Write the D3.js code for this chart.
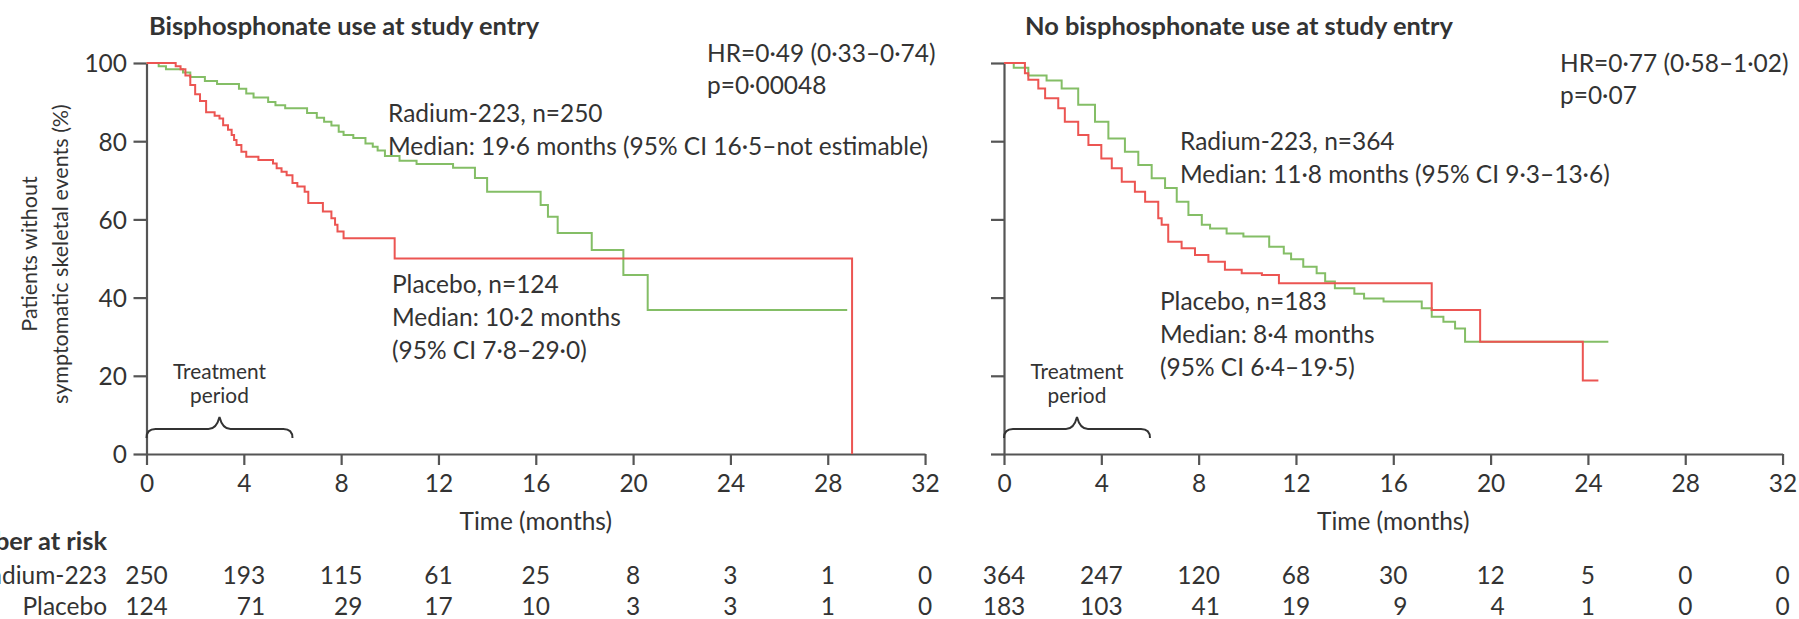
<!DOCTYPE html>
<html>
<head>
<meta charset="utf-8">
<script src="https://cdn.jsdelivr.net/npm/d3@7"></script>
<style>
  html, body { margin: 0; padding: 0; background: #fff; }
  svg { display: block; }
</style>
</head>
<body>
<div id="chart"></div>
<script>
// ---- data ----
var monthTicks = [0, 4, 8, 12, 16, 20, 24, 28, 32];
var pctTicks = [0, 20, 40, 60, 80, 100];

// Bisphosphonate use at study entry
var bisRadiumT = [0, 0.5, 0.8, 1.5, 1.8, 2.4, 2.9, 3.8, 4.1, 4.4, 5.0, 5.3, 5.7, 6.6, 7.0, 7.3, 7.6, 7.9, 8.1, 8.5, 9.0, 9.3, 9.5, 9.8, 10.4, 11.1, 12.6, 13.5, 14.0, 16.2, 16.5, 16.9, 18.3, 19.6, 20.6, 28.8];
var bisRadiumS = [100, 99.2, 98.4, 97.6, 96.4, 95.4, 94.6, 93.4, 92.2, 91.2, 90, 89.2, 88.4, 87.2, 86, 85, 84, 82.4, 81.6, 80.8, 79.4, 78.6, 77.6, 76.2, 75, 74.2, 73.2, 70.6, 67.1, 63.7, 60.7, 56.5, 52.2, 45.8, 36.8, 36.8];
var bisPlaceboT = [0, 1.2, 1.4, 1.6, 1.8, 2.0, 2.2, 2.45, 2.8, 3.0, 3.15, 3.35, 3.5, 3.6, 3.7, 3.9, 4.1, 4.6, 5.2, 5.35, 5.55, 5.76, 6.0, 6.2, 6.5, 6.65, 7.25, 7.6, 7.75, 7.85, 8.1, 10.2, 29.0];
var bisPlaceboS = [100, 99.2, 98.4, 96.8, 94.4, 92, 90.3, 87.4, 86.5, 85.8, 84.1, 82.9, 81.6, 80.3, 79, 77.3, 76, 75.2, 74.3, 73.1, 72.2, 71.3, 69.3, 68.4, 67.1, 64.2, 62, 60.3, 58.6, 56.9, 55.2, 50, 0];

// No bisphosphonate use at study entry
var noRadiumT = [0, 0.4, 1.0, 1.75, 2.37, 3.05, 3.74, 4.29, 4.97, 5.52, 6.07, 6.62, 7.1, 7.58, 8.13, 8.47, 9.15, 9.84, 10.9, 11.5, 11.8, 12.3, 12.85, 13.2, 13.6, 14.4, 14.8, 15.6, 17.17, 17.58, 18.06, 18.54, 18.95, 24.84];
var noRadiumS = [100, 98.8, 96.8, 95.5, 93.5, 89.3, 85, 80.7, 77.3, 73.9, 70.5, 68, 64.5, 61.1, 58.6, 57.7, 56.4, 55.6, 53, 51.3, 49.8, 47.9, 46.2, 44.1, 42.4, 41, 39.8, 39, 37.3, 35.1, 33.8, 32.1, 28.7, 28.7];
var noPlaceboT = [0, 0.86, 1.0, 1.41, 1.69, 2.23, 2.5, 3.05, 3.47, 4.0, 4.43, 4.84, 5.38, 5.8, 6.34, 6.48, 6.75, 7.3, 7.85, 8.4, 9.08, 9.77, 10.6, 11.3, 17.58, 19.57, 23.79, 24.43];
var noPlaceboS = [100, 97.4, 95.7, 93.5, 91, 88.4, 85, 81.6, 79, 75.6, 73.1, 69.6, 67.1, 64.5, 60.3, 58.6, 54.3, 52.6, 50.9, 49.2, 47.1, 46.2, 45.8, 43.7, 36.8, 28.7, 18.8, 18.8];

// Number at risk
var bisRadiumRisk = [250, 193, 115, 61, 25, 8, 3, 1, 0];
var bisPlaceboRisk = [124, 71, 29, 17, 10, 3, 3, 1, 0];
var noRadiumRisk = [364, 247, 120, 68, 30, 12, 5, 0, 0];
var noPlaceboRisk = [183, 103, 41, 19, 9, 4, 1, 0, 0];

// Text
var titles = ["Bisphosphonate use at study entry", "No bisphosphonate use at study entry"];
var hrNotes = [["HR=0·49 (0·33–0·74)", "p=0·00048"], ["HR=0·77 (0·58–1·02)", "p=0·07"]];
var radiumNotes = [["Radium-223, n=250", "Median: 19·6 months (95% CI 16·5–not estimable)"],
                   ["Radium-223, n=364", "Median: 11·8 months (95% CI 9·3–13·6)"]];
var placeboNotes = [["Placebo, n=124", "Median: 10·2 months", "(95% CI 7·8–29·0)"],
                    ["Placebo, n=183", "Median: 8·4 months", "(95% CI 6·4–19·5)"]];
var rowLabels = ["Radium-223", "Placebo"];

// ---- style / layout ----
var FONT = "Lato, 'Open Sans', sans-serif";
var TEXT = "#333333";
var AXIS = "#555555";
var GREEN = "#84be66";
var RED = "#ec5552";
var w = 1799, h = 619;
var yTop = 63, yBottom = 454;
var monthW = 24.33;

var svg = d3.select("#chart")
  .append("svg")
  .attr("width", w)
  .attr("height", h);

// size fonts so key strings have the widths seen in the figure
function fitSize(txt, width, weight) {
  var t = svg.append("text")
    .attr("font-family", FONT)
    .attr("font-size", 100)
    .attr("font-weight", weight || "normal")
    .text(txt);
  var len = t.node().getComputedTextLength();
  t.remove();
  return 100 * width / len;
}
var titleSize = fitSize(titles[1], 428, "bold");
var noteSize = fitSize(radiumNotes[0][1], 540);
var yTitleSize = fitSize("symptomatic skeletal events (%)", 300);
var smallSize = fitSize("Treatment", 93);

function label(x, y, txt, size, opts) {
  opts = opts || {};
  return svg.append("text")
    .attr("x", x)
    .attr("y", y)
    .attr("font-family", FONT)
    .attr("font-size", size)
    .attr("font-weight", opts.weight || "normal")
    .attr("text-anchor", opts.anchor || "start")
    .attr("fill", TEXT)
    .text(txt);
}

var panels = [
  { left: 146.5, titleX: 149, yLabels: true,
    radium: [bisRadiumT, bisRadiumS], placebo: [bisPlaceboT, bisPlaceboS],
    risk: [bisRadiumRisk, bisPlaceboRisk],
    hrPos: [707, 62], radiumPos: [388, 122], placeboPos: [392, 293] },
  { left: 1004, titleX: 1025, yLabels: false,
    radium: [noRadiumT, noRadiumS], placebo: [noPlaceboT, noPlaceboS],
    risk: [noRadiumRisk, noPlaceboRisk],
    hrPos: [1560, 72], radiumPos: [1180, 150], placeboPos: [1160, 310] }
];

panels.forEach(function(p, k) {
  var x = d3.scaleLinear().domain([0, 32]).range([p.left, p.left + 32 * monthW]);
  var y = d3.scaleLinear().domain([0, 100]).range([yBottom, yTop]);

  // Axes
  var ya = svg.append("g")
    .attr("transform", "translate(" + p.left + ",0)")
    .call(d3.axisLeft(y).tickValues(pctTicks).tickSize(13).tickSizeOuter(0)
      .tickFormat(p.yLabels ? d3.format("d") : ""));
  var xa = svg.append("g")
    .attr("transform", "translate(0," + yBottom + ")")
    .call(d3.axisBottom(x).tickValues(monthTicks).tickSize(11).tickSizeOuter(0));
  [ya, xa].forEach(function(a) {
    a.selectAll("path, line").attr("stroke", AXIS).attr("stroke-width", 2.2);
    a.selectAll("text")
      .attr("font-family", FONT)
      .attr("font-size", noteSize)
      .attr("fill", TEXT);
  });
  xa.selectAll("text").attr("y", 38).attr("dy", null);
  ya.selectAll("text").attr("x", -19.5).attr("dy", "0.36em");

  // Kaplan-Meier curves
  var line = d3.line()
    .x(function(d) { return x(d[0]); })
    .y(function(d) { return y(d[1]); })
    .curve(d3.curveStepAfter);
  [[p.radium, GREEN], [p.placebo, RED]].forEach(function(s) {
    svg.append("path")
      .datum(d3.zip(s[0][0], s[0][1]))
      .attr("d", line)
      .attr("fill", "none")
      .attr("stroke", s[1])
      .attr("stroke-width", 2);
  });

  // Title and notes
  label(p.titleX, 35, titles[k], titleSize, {weight: "bold"});
  hrNotes[k].forEach(function(t, i) { label(p.hrPos[0], p.hrPos[1] + i * 32, t, noteSize); });
  radiumNotes[k].forEach(function(t, i) { label(p.radiumPos[0], p.radiumPos[1] + i * 33, t, noteSize); });
  placeboNotes[k].forEach(function(t, i) { label(p.placeboPos[0], p.placeboPos[1] + i * 33, t, noteSize); });

  // Treatment period brace (0 to 6 months)
  var b0 = x(0), b1 = x(6), bm = x(3);
  svg.append("path")
    .attr("d", "M" + b0 + ",438 Q" + b0 + ",429 " + (b0 + 9) + ",429 L" + (bm - 11) + ",429 Q" + (bm - 3) + ",429 " + bm + ",417"
      + " Q" + (bm + 3) + ",429 " + (bm + 11) + ",429 L" + (b1 - 9) + ",429 Q" + b1 + ",429 " + b1 + ",438")
    .attr("fill", "none")
    .attr("stroke", "#333")
    .attr("stroke-width", 2);
  label(bm, 379, "Treatment", smallSize, {anchor: "middle"});
  label(bm, 403, "period", smallSize, {anchor: "middle"});

  // x axis title
  label(x(16), 530, "Time (months)", noteSize, {anchor: "middle"});

  // Number at risk: right aligned, widest entry of a column centred on the tick
  var rows = p.risk.map(function(row, r) {
    return row.map(function(v, i) {
      return label(x(monthTicks[i]), 584 + r * 31, v, noteSize, {anchor: "end"});
    });
  });
  monthTicks.forEach(function(m, i) {
    var mw = d3.max(rows, function(row) { return row[i].node().getComputedTextLength(); });
    rows.forEach(function(row) { row[i].attr("x", x(m) + mw / 2); });
  });
});

// Left side labels
label(0, 0, "Patients without", yTitleSize, {anchor: "middle"})
  .attr("x", null).attr("y", null)
  .attr("transform", "translate(37,254) rotate(-90)");
label(0, 0, "symptomatic skeletal events (%)", yTitleSize, {anchor: "middle"})
  .attr("x", null).attr("y", null)
  .attr("transform", "translate(68,254) rotate(-90)");

label(107, 550, "Number at risk", titleSize, {weight: "bold", anchor: "end"});
rowLabels.forEach(function(t, r) { label(107, 584 + r * 31, t, noteSize, {anchor: "end"}); });
</script>
</body>
</html>
